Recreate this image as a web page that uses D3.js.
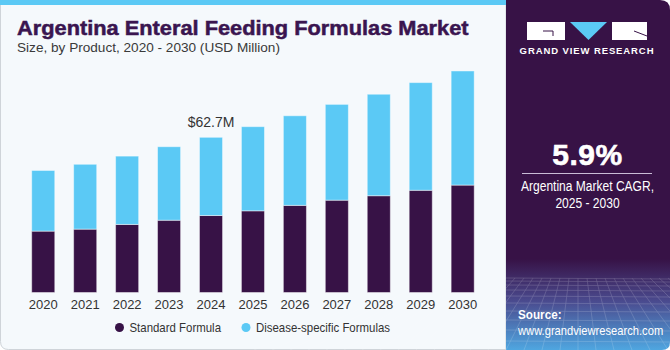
<!DOCTYPE html>
<html>
<head>
<meta charset="utf-8">
<script src="https://cdn.jsdelivr.net/npm/d3@7"></script>
<style>
  html, body { margin: 0; padding: 0; background: #fff; }
  svg { display: block; font-family: "Liberation Sans", Arial, sans-serif; }
</style>
</head>
<body>
<div id="chart"></div>
<script>
const years = ['2020', '2021', '2022', '2023', '2024', '2025', '2026', '2027', '2028', '2029', '2030'];
const standardFormula = [24.8, 25.6, 27.5, 29.2, 31.1, 33.0, 35.2, 37.3, 39.1, 41.3, 43.4];
const diseaseSpecific = [24.5, 26.2, 27.6, 29.7, 31.6, 34.0, 36.2, 38.7, 41.0, 43.5, 46.1];
const seriesNames = ['Standard Formula', 'Disease-specific Formulas'];
const seriesColors = ['#371246', '#5bc9f5'];
const calloutYear = '2024';
const calloutText = '$62.7M';

const W = 670, H = 350;
const svg = d3.select('#chart').append('svg')
    .attr('width', W)
    .attr('height', H);

const defs = svg.append('defs');

// text squeezed/stretched horizontally (the original uses a narrow face)
function scaledText(parent, x, y, str, size, sx, anchor) {
    return parent.append('text')
        .attr('transform', `translate(${x},${y}) scale(${sx},1)`)
        .attr('text-anchor', anchor || 'start')
        .attr('font-size', size)
        .text(str);
}

// Left panel background
svg.append('path')
    .attr('d', `M0.5,0 H506 V349.5 H8.5 Q0.5,349.5 0.5,341.5 Z`)
    .attr('fill', '#f5f9fc')
    .attr('stroke', '#cfd4d9')
    .attr('stroke-width', 1);
svg.append('rect')
    .attr('x', 0).attr('y', 0)
    .attr('width', 506).attr('height', 5)
    .attr('fill', '#5bc9f5');

// Right panel
const grad = defs.append('linearGradient')
    .attr('id', 'panelGrad')
    .attr('x1', 0).attr('y1', 0).attr('x2', 0).attr('y2', 1);
grad.append('stop').attr('offset', '0%').attr('stop-color', '#371246');
grad.append('stop').attr('offset', '74%').attr('stop-color', '#371246');
grad.append('stop').attr('offset', '86%').attr('stop-color', '#4a4a8e');
grad.append('stop').attr('offset', '100%').attr('stop-color', '#4fa6e0');

svg.append('path')
    .attr('d', `M506,0 H660 Q670,0 670,10 V342 Q670,350 662,350 H506 Z`)
    .attr('fill', 'url(#panelGrad)');

// perspective mesh in the bottom of the panel
const mesh = svg.append('g')
    .attr('opacity', 0.22)
    .attr('stroke', '#ffffff')
    .attr('stroke-width', 0.7)
    .attr('fill', 'none');
const meshRows = [278, 281, 285, 290, 296, 303, 311, 320, 330, 341];
meshRows.forEach(y => {
    mesh.append('line').attr('x1', 506).attr('x2', 670).attr('y1', y).attr('y2', y + 1);
});
d3.range(-10, 22).forEach(i => {
    const xTop = 506 + i * 9;
    const xBot = 506 + (i - 4) * 18;
    mesh.append('line').attr('x1', xTop).attr('y1', 278).attr('x2', xBot).attr('y2', 350);
});

// Logo
const logo = svg.append('g');
logo.append('rect').attr('x', 527).attr('y', 22).attr('width', 38).attr('height', 18).attr('fill', '#fff');
logo.append('path').attr('d', 'M543,31 H553 V36').attr('stroke', '#371246').attr('stroke-width', 1).attr('fill', 'none');
logo.append('path').attr('d', 'M570,22 H607 L588.5,40 Z').attr('fill', '#5bc9f5');
logo.append('rect').attr('x', 612).attr('y', 22).attr('width', 35).attr('height', 18).attr('fill', '#fff');
logo.append('path').attr('d', 'M634,31 L647,36').attr('stroke', '#371246').attr('stroke-width', 1).attr('fill', 'none');
logo.append('text')
    .attr('x', 587).attr('y', 53.5)
    .attr('text-anchor', 'middle')
    .attr('fill', '#fff')
    .attr('font-size', 9.5)
    .attr('font-weight', 'bold')
    .attr('letter-spacing', 0.9)
    .text('GRAND VIEW RESEARCH');

// CAGR block
svg.append('text')
    .attr('x', 587.5).attr('y', 165)
    .attr('text-anchor', 'middle')
    .attr('fill', '#fff')
    .attr('stroke', '#fff')
    .attr('stroke-width', 0.6)
    .attr('font-size', 30)
    .attr('font-weight', 'bold')
    .attr('letter-spacing', 0.5)
    .text('5.9%');
svg.append('line')
    .attr('x1', 522).attr('x2', 652)
    .attr('y1', 173.5).attr('y2', 173.5)
    .attr('stroke', '#c9bcd6')
    .attr('stroke-width', 1);
scaledText(svg, 587.5, 191, 'Argentina Market CAGR,', 14.5, 0.83, 'middle').attr('fill', '#fff');
scaledText(svg, 587.5, 208, '2025 - 2030', 14.5, 0.83, 'middle').attr('fill', '#fff');

// Source
scaledText(svg, 518, 319, 'Source:', 13, 0.9).attr('fill', '#fff').attr('font-weight', 'bold');
scaledText(svg, 518, 335, 'www.grandviewresearch.com', 13, 0.86).attr('fill', '#fff');

// Titles
scaledText(svg, 17, 35, 'Argentina Enteral Feeding Formulas Market', 20, 1.09)
    .attr('fill', '#3a1550')
    .attr('stroke', '#3a1550')
    .attr('stroke-width', 0.5)
    .attr('font-weight', 'bold');
svg.append('text')
    .attr('x', 17).attr('y', 52)
    .attr('fill', '#3a3a3a')
    .attr('font-size', 13.6)
    .text('Size, by Product, 2020 - 2030 (USD Million)');

// Chart
const data = years.map((y, i) => ({
    year: y,
    standard: standardFormula[i],
    disease: diseaseSpecific[i]
}));
const stack = d3.stack().keys(['standard', 'disease']);
const stacked = stack(data);

const baseline = 292.5;
const x = d3.scaleBand()
    .domain(years)
    .range([31.7, 474.2])
    .paddingInner(0.45)
    .paddingOuter(0);

const y = d3.scaleLinear()
    .domain([0, 62.7])
    .range([baseline, 137.3]);

const g = svg.append('g');
g.selectAll('g.series')
    .data(stacked)
    .join('g')
    .attr('class', 'series')
    .attr('fill', (d, i) => seriesColors[i])
    .selectAll('rect')
    .data(d => d)
    .join('rect')
    .attr('x', d => x(d.data.year))
    .attr('y', d => y(d[1]))
    .attr('width', x.bandwidth())
    .attr('height', d => y(d[0]) - y(d[1]))
    .attr('stroke', 'rgba(255,255,255,0.45)')
    .attr('stroke-width', 1);

const xAxis = g.append('g')
    .attr('transform', `translate(0,${baseline})`)
    .call(d3.axisBottom(x).tickSize(0).tickPadding(7));
xAxis.select('.domain').remove();
xAxis.selectAll('text')
    .attr('font-size', 13)
    .attr('font-family', '"Liberation Sans", Arial, sans-serif')
    .attr('fill', '#333');

// callout
const ci = years.indexOf(calloutYear);
g.append('text')
    .attr('x', x(calloutYear) + x.bandwidth() / 2)
    .attr('y', y(standardFormula[ci] + diseaseSpecific[ci]) - 10)
    .attr('text-anchor', 'middle')
    .attr('fill', '#333')
    .attr('font-size', 14)
    .text(calloutText);

// Legend
const legendX = [119.5, 246];
const legend = svg.append('g');
seriesNames.forEach((name, i) => {
    legend.append('circle')
        .attr('cx', legendX[i]).attr('cy', 327.5).attr('r', 4.5)
        .attr('fill', seriesColors[i]);
    scaledText(legend, legendX[i] + 10, 332, name, 13, 0.88).attr('fill', '#333');
});
</script>
</body>
</html>
